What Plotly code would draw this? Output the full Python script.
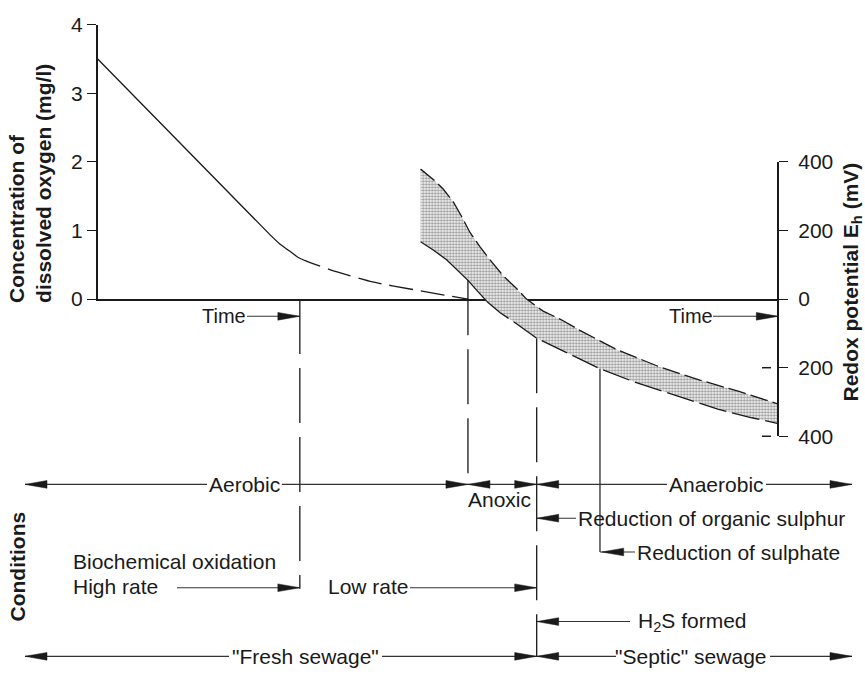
import numpy as np
import plotly.graph_objects as go

# ---------------- data (time in arbitrary units, 0 = start, 100 = end of axis) ----------------
do_time_measured = [0, 25.3, 26.8, 28.2, 29.4]
do_measured = [3.5, 0.94, 0.80, 0.70, 0.61]          # mg/l, solid part
do_time_projected = [29.4, 30.5, 34.1, 40.4, 46.3, 50.3, 54.4]
do_projected = [0.61, 0.56, 0.43, 0.25, 0.14, 0.07, 0.0]  # mg/l, dashed part

eh_upper_time = [47.44, 49.30, 50.76, 52.23, 53.47, 54.68, 56.15, 57.62, 59.58, 61.54,
                 63.01, 65.45, 68.39, 70.84, 76.23, 82.59, 88.47, 94.34, 100.0]
eh_upper = [379, 349, 321, 284, 241, 195, 153, 115, 68, 31,
            0, -35, -63, -91, -147, -198, -236, -270, -306]   # mV
eh_lower_time = [47.44, 49.30, 51.26, 53.22, 54.44, 55.67, 57.14, 59.09, 61.54, 64.48,
                 68.89, 73.78, 78.63, 85.97, 91.11, 96.11, 100.0]
eh_lower = [167, 143, 115, 78, 54, 26, -6, -39, -72, -114,
            -156, -203, -240, -287, -321, -346, -363]           # mV

# stage boundaries: end of high-rate oxidation, DO exhausted, anaerobic onset, sulphate reduction
stage_times = [29.7, 54.4, 64.5, 73.8]

do_ticks = [0, 1, 2, 3, 4]
eh_ticks = [-400, -200, 0, 200, 400]
eh_tick_text = ["400", "200", "0", "200", "400"]

condition_labels = {
    "aerobic": "Aerobic", "anoxic": "Anoxic", "anaerobic": "Anaerobic",
    "org_s": "Reduction of organic sulphur", "sulphate": "Reduction of sulphate",
    "biochem": "Biochemical oxidation", "high": "High rate", "low": "Low rate",
    "h2s": "H<sub>2</sub>S formed", "fresh": "\"Fresh sewage\"", "septic": "\"Septic\" sewage",
    "time": "Time",
}

# ---------------- geometry ----------------
W, H = 865, 677
X0, X1 = 97.7, 778.3          # pixel x of time 0 and time 100
Y0, PXDO = 297.2, 71.0        # pixel y of zero, pixels per mg/l (= per 200 mV)
PXU = (X1 - X0) / 100.0

def tx(px):
    return (px - X0) / PXU

def ey(py):
    return (Y0 - py) * 200.0 / PXDO

FONT = "Liberation Sans, Arial, Helvetica, sans-serif"
INK = "#1a1a1a"

fig = go.Figure()

# dissolved oxygen
fig.add_trace(go.Scatter(x=do_time_measured, y=do_measured, mode="lines", line_shape="spline",
                         line=dict(color=INK, width=1.3, smoothing=0.4), xaxis="x", yaxis="y",
                         hoverinfo="skip"))
fig.add_trace(go.Scatter(x=do_time_projected, y=do_projected, mode="lines", line_shape="spline",
                         line=dict(color=INK, width=1.3, dash="24px,8px", smoothing=0.6),
                         xaxis="x", yaxis="y", hoverinfo="skip"))

# redox band
fig.add_trace(go.Scatter(x=eh_upper_time + eh_lower_time[::-1], y=eh_upper + eh_lower[::-1],
                         mode="lines", fill="toself", line=dict(width=0, color="rgba(0,0,0,0)"),
                         fillcolor="rgba(0,0,0,0)",
                         fillpattern=dict(shape=".", size=3, solidity=0.5, fgcolor="#333",
                                          bgcolor="white"),
                         xaxis="x", yaxis="y2", hoverinfo="skip"))
fig.add_trace(go.Scatter(x=eh_upper_time, y=eh_upper, mode="lines",
                         line=dict(color=INK, width=1.3, dash="18px,5px"),
                         xaxis="x", yaxis="y2", hoverinfo="skip"))
split = 7
fig.add_trace(go.Scatter(x=eh_lower_time[:split], y=eh_lower[:split], mode="lines",
                         line=dict(color=INK, width=1.3), xaxis="x", yaxis="y2", hoverinfo="skip"))
fig.add_trace(go.Scatter(x=eh_lower_time[split - 1:], y=eh_lower[split - 1:], mode="lines",
                         line=dict(color=INK, width=1.3, dash="28px,6px"),
                         xaxis="x", yaxis="y2", hoverinfo="skip"))

# ---------------- overlay: stage lines and condition arrows ----------------
m0, m1, m2, m3 = stage_times
lower_at = lambda t: float(np.interp(t, eh_lower_time, eh_lower))

vx, vy = [], []
for t, top, bottom_px in [(m0, 0.0, 597), (m1, lower_at(m1), 489), (m2, lower_at(m2), 667)]:
    vx += [t, t, None]
    vy += [top, ey(bottom_px), None]
fig.add_trace(go.Scatter(x=vx, y=vy, mode="lines", line=dict(color=INK, width=1.3, dash="55px,14px"),
                         xaxis="x3", yaxis="y3", hoverinfo="skip"))
fig.add_trace(go.Scatter(x=[m3, m3], y=[lower_at(m3), ey(559)], mode="lines",
                         line=dict(color=INK, width=1.2), xaxis="x3", yaxis="y3", hoverinfo="skip"))

# minus signs of the negative redox ticks, drawn left of the axis
neg_ticks = [v for v in eh_ticks if v < 0]
mx, my = [], []
for v in neg_ticks:
    mx += [tx(762), tx(771), None]
    my += [v, v, None]
fig.add_trace(go.Scatter(x=mx, y=my, mode="lines", line=dict(color=INK, width=1.5),
                         xaxis="x3", yaxis="y3", hoverinfo="skip"))

lx, ly, hx, hy = [], [], [], []
HL = 22 / PXU
HW = 4 * 200.0 / PXDO

def seg(xa, xb, y):
    lx.extend([xa, xb, None]); ly.extend([y, y, None])

def head(xt, y, d):
    hx.extend([xt, xt - d * HL, xt - d * HL, xt, None])
    hy.extend([y, y + HW, y - HW, y, None])

L_END, R_END = tx(25), tx(852)
# time arrows
r = ey(315)
seg(tx(247), m0, r); head(m0, r, 1)
seg(tx(713), 100, r); head(100, r, 1)
# aerobic / anoxic / anaerobic
r = ey(489)
seg(L_END, tx(207), r); head(L_END, r, -1)
seg(tx(282), m1, r); head(m1, r, 1)
seg(m1, m2, r); head(m1, r, -1); head(m2, r, 1)
seg(m2, tx(667), r); head(m2, r, -1)
seg(tx(766), R_END, r); head(R_END, r, 1)
# organic sulphur
r = ey(524)
seg(m2, tx(576), r); head(m2, r, -1)
# sulphate
r = ey(559)
seg(m3, tx(635), r); head(m3 + 0.25, r, -1)
# rates
r = ey(596)
seg(tx(177), m0, r); head(m0, r, 1)
seg(tx(410), m2, r); head(m2, r, 1)
# H2S
r = ey(631)
seg(m2, tx(630), r); head(m2, r, -1)
# fresh / septic
r = ey(667)
seg(L_END, tx(229), r); head(L_END, r, -1)
seg(tx(382), m2, r); head(m2, r, 1)
seg(m2, tx(616), r); head(m2, r, -1)
seg(tx(770), R_END, r); head(R_END, r, 1)

fig.add_trace(go.Scatter(x=lx, y=ly, mode="lines", line=dict(color="#333", width=1.1),
                         xaxis="x3", yaxis="y3", hoverinfo="skip"))
fig.add_trace(go.Scatter(x=hx, y=hy, mode="lines", fill="toself", fillcolor=INK,
                         line=dict(color=INK, width=0.5), xaxis="x3", yaxis="y3", hoverinfo="skip"))

# ---------------- text ----------------
ann = []
def text(s, px, py, anchor="center", size=21, bold=False, angle=0, align="center"):
    ann.append(dict(text=f"<b>{s}</b>" if bold else s, x=tx(px), y=ey(py), xref="x3", yref="y3",
                    showarrow=False, xanchor=anchor, yanchor="middle", textangle=angle, align=align,
                    font=dict(family=FONT, size=size, color=INK)))

c = condition_labels
text(c["time"], 224, 315, size=20)
text(c["time"], 691, 315, size=20)
text(c["aerobic"], 244, 489)
text(c["anoxic"], 499, 505)
text(c["anaerobic"], 716, 489)
text(c["org_s"], 576, 524, anchor="left")
text(c["sulphate"], 635, 559, anchor="left")
text(c["biochem"], 71, 569, anchor="left")
text(c["high"], 71, 595, anchor="left")
text(c["low"], 368, 595)
text(c["h2s"], 636, 631, anchor="left")
text(c["fresh"], 305, 667)
text(c["septic"], 691, 667)
# axis titles
text("Concentration of<br>dissolved oxygen (mg/l)", 30, 178, size=21, bold=True, angle=-90, align="left")
text("Redox potential E<sub>h</sub> (mV)", 852, 280, size=21, bold=True, angle=-90)
text("Conditions", 17, 574, size=21, bold=True, angle=-90)

axis_common = dict(showgrid=False, zeroline=False, linecolor=INK, linewidth=1.5,
                   tickcolor=INK, tickwidth=1.3, ticklen=9,
                   tickfont=dict(family=FONT, size=21, color=INK))

fig.update_layout(
    width=W, height=H, margin=dict(l=0, r=0, t=0, b=0),
    paper_bgcolor="white", plot_bgcolor="rgba(0,0,0,0)", showlegend=False,
    xaxis=dict(domain=[X0 / W, X1 / W], range=[0, 100], anchor="y", showline=True,
               showticklabels=False, ticks="", showgrid=False, zeroline=False,
               linecolor=INK, linewidth=1.5, fixedrange=True),
    yaxis=dict(domain=[1 - Y0 / H, 1 - (Y0 - 4 * PXDO) / H], range=[0, 4], anchor="x",
               tickvals=do_ticks, ticks="outside", showline=True, **axis_common),
    yaxis2=dict(domain=[1 - (Y0 + 2 * PXDO) / H, 1 - (Y0 - 2 * PXDO) / H], range=[-400, 400],
                side="right", anchor="free", position=X1 / W, tickvals=eh_ticks,
                ticktext=eh_tick_text, ticks="outside", showline=True,
                ticklabelstandoff=6, **axis_common),
    xaxis3=dict(domain=[0, 1], range=[tx(0), tx(W)], anchor="y3", visible=False),
    yaxis3=dict(domain=[0, 1], range=[ey(H), ey(0)], anchor="x3", visible=False),
    annotations=ann,
)

fig.write_html("out.html", config={"displayModeBar": False},
               post_script="document.body.style.margin='0px';document.body.style.overflow='hidden';")
